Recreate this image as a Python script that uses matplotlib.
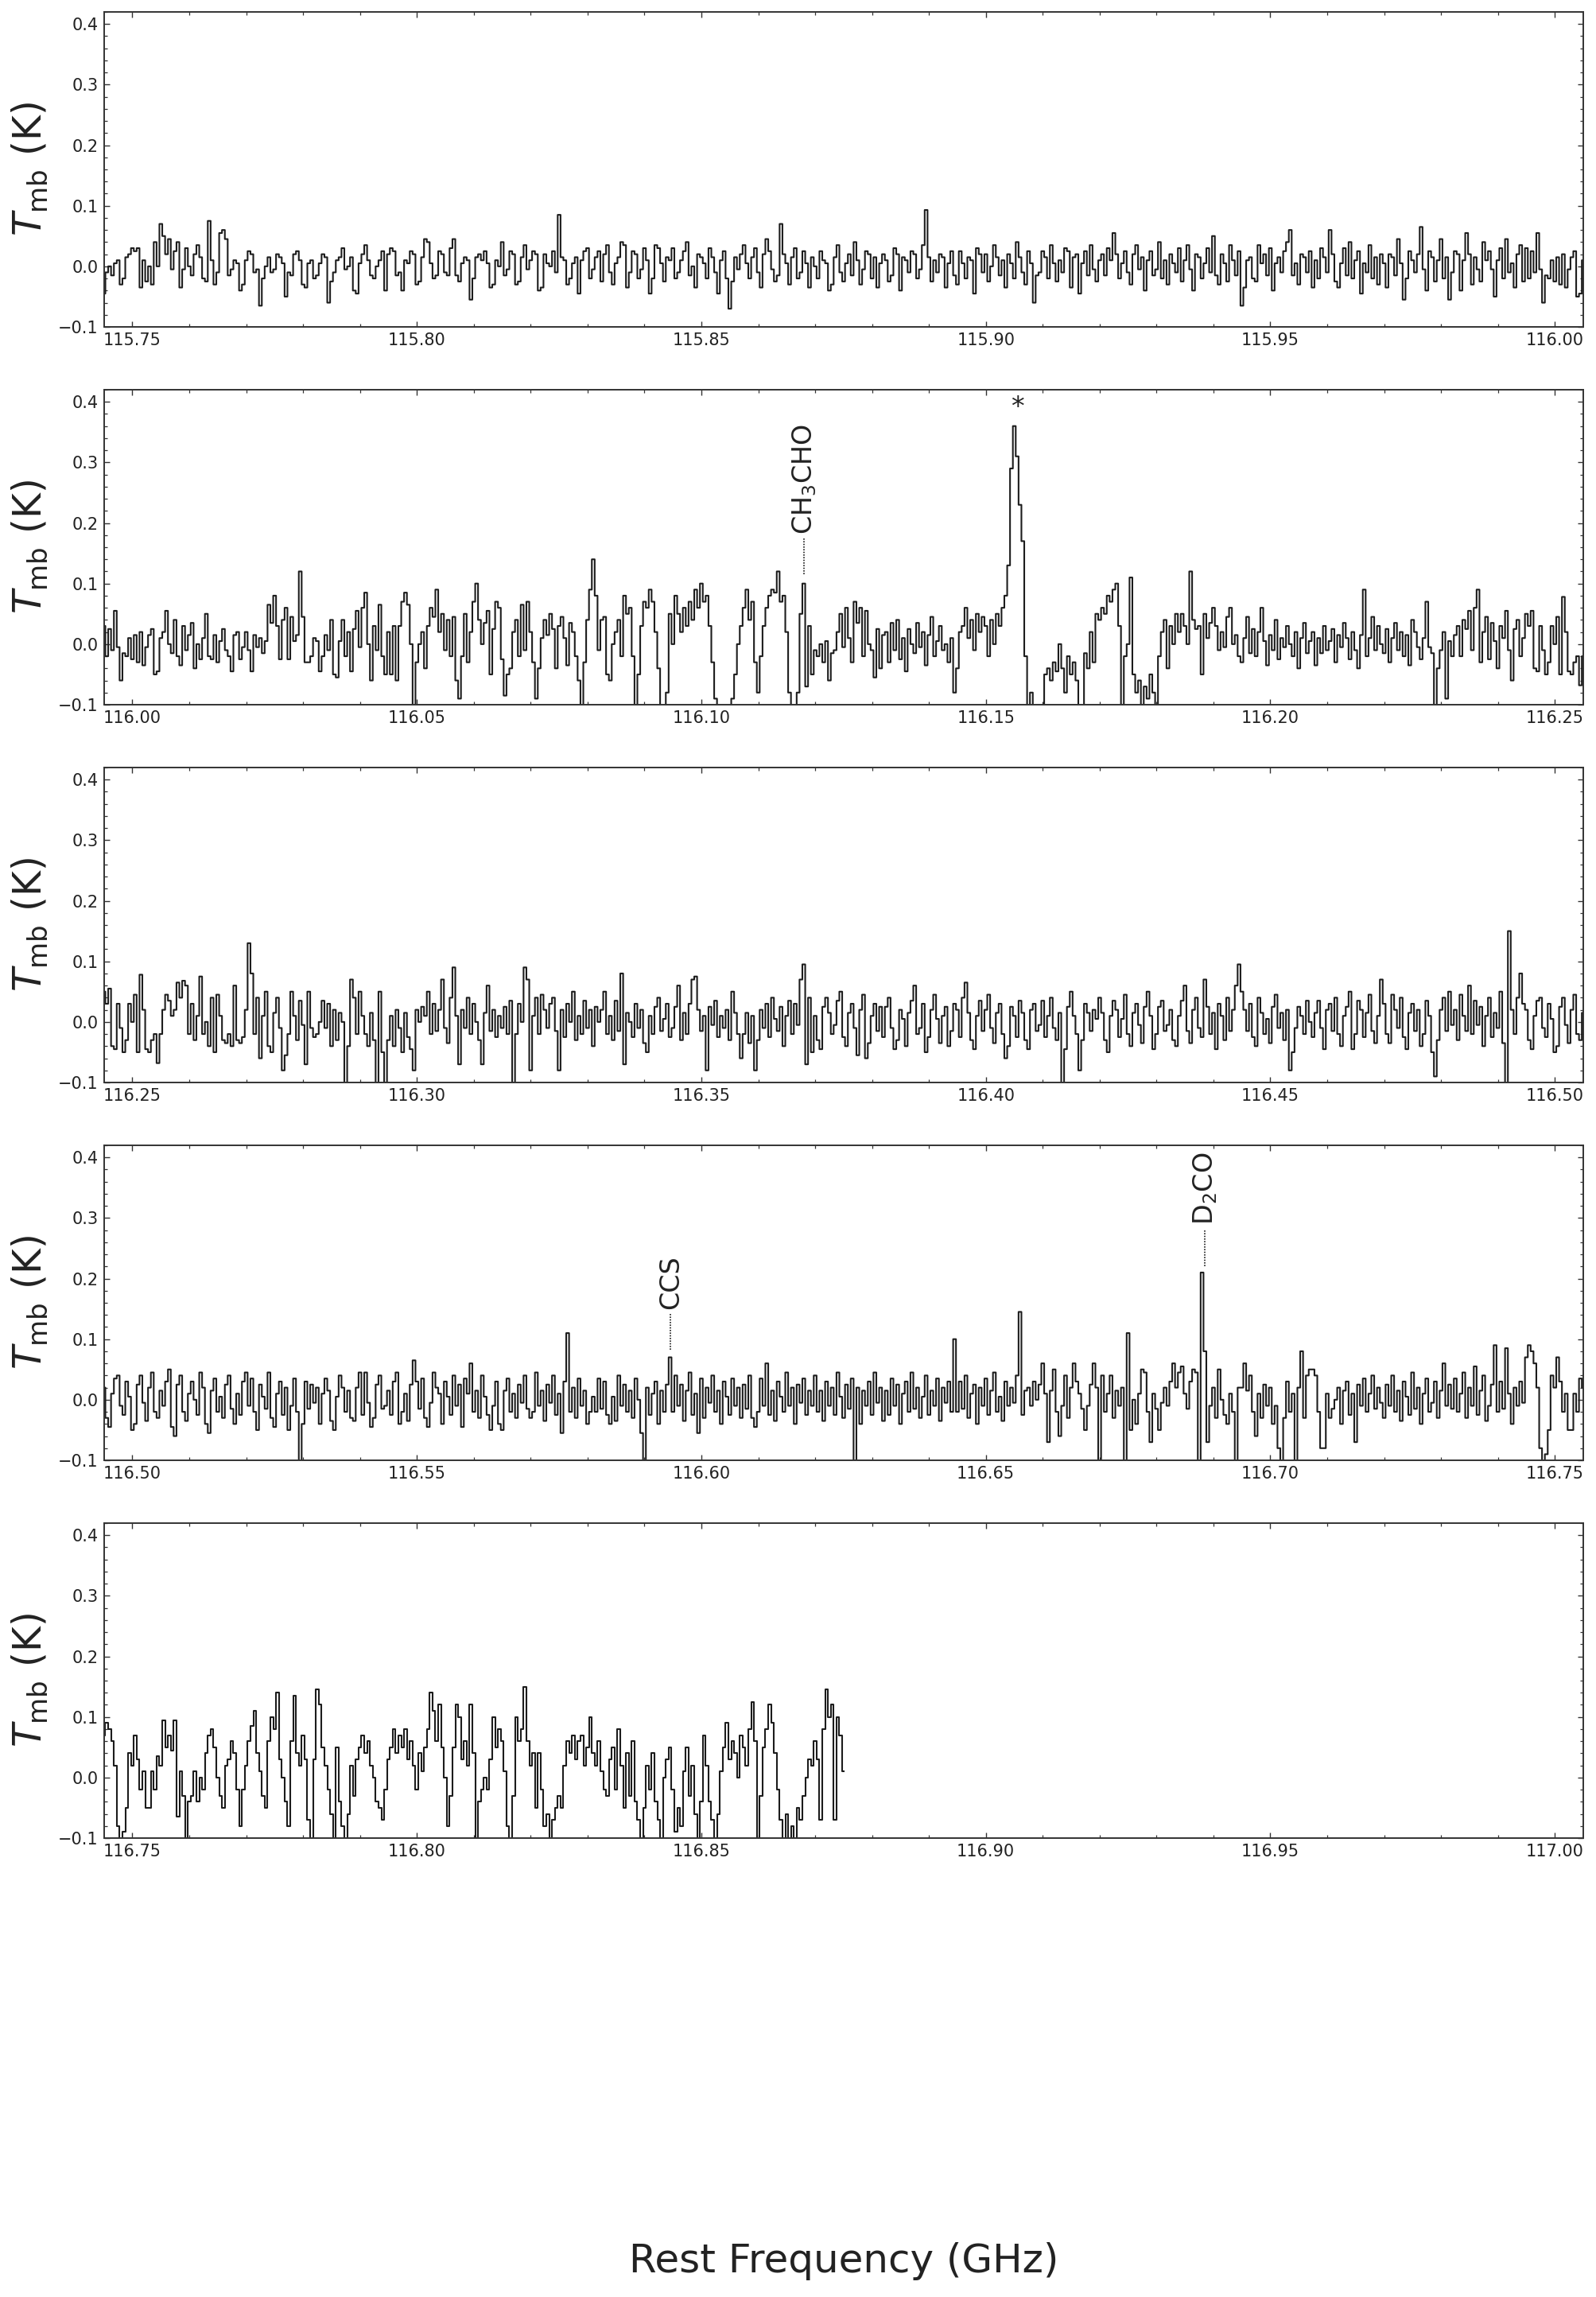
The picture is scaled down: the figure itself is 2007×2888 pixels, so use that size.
import numpy as np
import matplotlib
matplotlib.use("Agg")
import matplotlib.pyplot as plt
from matplotlib.ticker import MultipleLocator, FuncFormatter

# ---------------- data (main-beam temperature in mK, 0.5 MHz channels) ----------------
CHAN_GHZ = 0.0005
seg_starts = [115.745, 115.995, 116.245, 116.495, 116.745]

tmb_seg1 = [
-45,-10,0,-15,5,10,-30,-20,15,20,30,25,30,-35,10,-25,0,-30,40,0,70,50,20,45,-5,
25,40,-35,-5,30,0,-15,20,35,15,-20,-25,75,10,-30,-10,55,60,45,-15,-5,10,5,-40,-30,
10,25,20,-10,-5,-65,-20,0,15,-10,-5,20,15,5,-50,-10,-15,20,25,10,-30,-35,5,10,-20,
-15,5,20,15,-60,-25,-10,10,15,30,-5,0,15,-40,-45,5,20,35,10,-15,-20,0,10,25,-40,
20,30,25,-15,-10,-40,10,5,25,20,-30,-25,15,45,40,5,-20,-15,25,20,-10,-15,30,45,-15,
-25,5,15,10,-55,-20,15,20,10,25,5,-35,-30,10,0,40,-15,-5,25,20,-30,-25,15,35,-5,
10,25,20,-40,-35,20,5,0,25,-10,85,15,10,-30,-20,5,15,-45,10,25,30,-20,-5,15,25,
-25,20,35,-10,-30,5,15,40,35,-35,-10,25,20,-20,-5,30,10,-45,-20,35,30,5,-25,15,10,
30,-20,-10,10,25,40,-15,0,-35,20,15,5,-20,30,15,-10,-45,10,25,-20,-70,-25,15,-5,20,
35,5,-20,15,30,-10,-35,20,45,25,-5,-25,-15,70,20,5,-30,15,30,-20,-10,25,5,-35,15,
0,-20,25,10,5,-40,-30,15,35,-10,-25,5,20,-15,40,10,-30,-5,25,20,-20,15,-35,5,20,
10,-25,-15,30,20,-40,15,10,-10,25,20,-20,-5,35,93,15,-25,10,-10,20,15,-35,5,25,-15,
-30,25,5,-20,15,10,-45,30,20,-10,20,-25,0,35,15,-15,10,-35,20,5,-20,40,15,-10,-30,
25,5,-60,-15,-10,25,15,-20,35,5,-25,10,-10,30,25,-35,15,20,-45,5,25,-15,35,-5,-25,
10,20,-15,30,10,55,20,-20,5,25,-10,-30,20,35,-5,15,-40,10,25,-15,-5,40,-20,10,-30,
20,5,-10,30,-25,10,35,-5,-40,20,15,-20,5,30,-10,50,-15,-30,20,5,-25,35,10,-15,25,
-65,-35,10,15,-20,-25,35,5,20,-15,30,-40,5,15,-10,25,40,60,-15,5,-30,20,15,-10,25,
-35,10,-20,30,15,-10,60,20,-25,-35,5,30,-15,40,-20,10,25,-45,5,-10,35,-20,15,-30,20,
5,-35,20,15,-15,45,5,-55,-20,25,10,-10,20,65,-5,-40,25,15,-25,10,45,-20,15,-55,-10,
25,20,-40,10,55,20,-30,15,-5,-25,40,10,25,-5,-50,10,30,-20,45,-10,5,-35,20,35,-25]

tmb_seg2 = [
30,-20,25,-10,55,-5,-60,-15,-20,10,-25,15,-30,20,-35,-5,15,25,-50,-45,10,20,55,0,-15,
40,-20,-35,30,-10,15,35,-40,0,-25,10,50,-20,-25,15,-30,5,25,-10,-20,-45,15,20,-25,-5,
20,-10,-45,15,-5,10,-15,5,65,35,80,30,-25,40,60,-25,45,5,15,120,45,-30,-30,-20,10,
5,-45,-20,15,-10,40,-50,-55,5,40,-20,20,-45,25,55,-5,60,85,0,-60,30,-10,65,-20,-50,
20,-50,30,-60,30,70,85,65,0,-105,-30,0,20,-40,30,60,45,90,20,50,-10,40,-20,45,-60,
-90,-20,50,-30,20,70,100,40,0,35,55,-50,25,70,60,-25,-85,-50,-40,20,40,-20,65,-10,70,
20,-30,-90,-40,10,40,15,50,25,-40,30,45,10,-35,35,20,-20,-60,-110,-30,40,90,140,80,-10,
40,45,-50,-60,0,20,40,-20,80,50,60,-20,-130,-50,30,70,60,90,70,20,-40,-130,-120,-80,50,
0,80,50,20,60,30,70,40,90,60,100,70,80,30,-30,-90,-130,-140,-120,-130,-110,-90,-50,0,30,
60,90,40,70,-30,-80,-20,30,60,80,90,85,120,70,80,20,-80,-130,-120,-80,50,100,-70,30,-50,
-10,-20,0,-30,5,-60,-15,-10,20,50,-5,60,10,-30,70,35,60,-20,55,0,-10,-55,25,-40,15,
20,-30,35,-10,40,-25,10,-45,25,0,-15,35,-5,20,-35,15,45,-20,5,30,-10,0,-30,10,-80,
-40,20,30,60,10,40,-10,50,20,45,30,-20,40,0,50,30,60,80,130,290,360,310,230,170,-20,
-150,-80,-150,-140,-130,-120,-50,-40,-60,-30,-45,0,-40,-80,-20,-50,-30,-60,-110,-130,-15,-40,20,-30,50,
40,60,50,80,70,90,100,30,-100,-20,0,110,-50,-80,-60,-100,-70,-90,-50,-80,-100,-20,20,40,-40,
30,0,50,20,50,30,0,120,40,25,30,-50,50,10,35,60,30,-10,20,-5,45,60,0,15,-20,
-30,10,45,-15,25,-20,20,60,5,-35,15,-10,40,-25,10,-5,30,0,-20,20,-40,10,35,-15,5,
20,-35,10,-15,30,-10,5,25,-30,15,-5,35,10,-25,20,-10,-40,15,90,-20,10,45,-10,30,0,
-15,25,-30,10,35,-10,20,-20,15,-35,40,20,-5,-25,10,70,-5,-15,-130,-40,-10,20,-90,5,-20,
15,30,-20,40,25,55,-10,60,90,-30,20,45,-25,35,5,-40,30,10,55,-10,-60,25,40,-20,10]

tmb_seg3 = [
50,30,55,-40,-45,30,-10,-50,-30,30,0,45,-50,78,20,-45,-50,-30,-20,-68,-20,20,45,35,10,
20,65,40,68,60,-20,30,-30,10,75,-20,0,-40,40,-50,45,10,-30,-35,-20,-40,60,-30,-35,-25,
20,130,80,-20,40,-60,10,50,-40,-50,15,40,-10,-80,-55,-20,50,10,-30,35,-5,-70,50,-10,-25,
-20,0,35,-10,30,-40,20,-30,15,0,-120,-40,70,40,-20,50,10,-20,-40,15,-30,-120,50,-50,-100,
-30,10,-40,20,-10,-50,15,-25,-45,-80,20,0,25,10,50,-20,30,-15,20,70,-10,-35,40,90,10,
-70,20,-10,40,-20,30,0,-30,-70,15,60,-15,20,-25,10,-10,25,-20,35,-120,-20,30,0,90,70,
-80,10,40,-20,45,20,-10,30,40,-15,-80,20,-25,30,0,50,-30,10,-20,35,-10,20,-40,25,0,
20,50,-20,10,-30,35,-15,80,-70,15,0,-25,30,-10,20,-35,-50,10,-20,25,40,-15,5,30,-25,
-10,25,60,-30,15,-20,30,70,75,20,-15,10,-80,25,-5,35,-25,10,-10,20,-30,50,15,-20,-60,
-20,15,-35,10,-80,-30,20,-10,30,-25,40,5,-15,25,-40,10,35,-20,30,-5,70,95,-70,40,-50,
10,-30,-45,25,40,15,-20,-5,35,50,-25,-40,15,30,-10,-55,20,45,-60,-35,10,30,-15,25,-25,
25,40,-10,-45,-30,20,5,-40,15,35,60,-20,-10,30,-50,-25,20,45,5,-35,10,25,-40,-15,30,
20,-25,40,65,15,-30,-45,10,35,-15,20,45,-10,-35,15,30,-20,-60,-40,25,10,-25,35,15,-30,
-45,20,30,-15,-5,35,-25,10,40,-10,-30,15,-110,-45,25,50,10,-20,-80,-30,30,15,-15,20,5,
40,15,-30,-50,10,35,20,-25,5,45,-20,-40,15,30,-5,-35,25,50,10,-45,-20,25,35,-15,-5,
20,-30,-40,10,35,60,-15,-35,20,40,-10,-25,70,25,-20,15,-45,30,10,-30,40,-15,20,60,95,
50,20,-15,30,-25,-40,40,15,-20,5,-35,25,45,-10,15,-30,20,-80,-50,-10,25,10,-20,35,0,
-25,15,35,-10,-45,20,30,-15,40,-20,-40,10,25,50,-45,-20,35,20,-25,15,45,-15,-35,10,70,
30,-20,-35,45,20,-10,40,-25,-45,15,30,-15,20,-40,-20,35,10,-50,-90,-30,20,40,-15,50,-5,
20,-30,45,10,-15,60,-20,35,-5,25,-40,10,40,-25,15,-10,50,-35,-130,150,20,-20,40,80,30]

tmb_seg4 = [
20,-30,-45,10,35,40,-10,-25,30,5,-50,-40,25,40,-5,-35,20,45,-20,-30,15,-10,30,50,-45,
-60,25,40,-20,-35,10,30,0,-25,45,20,-40,-55,15,35,-20,5,-30,25,40,-15,-40,10,-25,30,
45,-10,35,-20,-50,25,5,-15,45,-30,-45,10,30,-25,20,-50,-10,35,-20,-110,-40,30,-15,25,-5,
20,-40,10,35,15,-35,-50,5,40,20,-20,15,-30,-35,20,45,-25,45,-5,-45,-30,25,40,-15,-10,
15,-25,30,45,-40,-20,10,-35,25,65,30,-15,35,-30,-45,-5,45,20,10,-40,30,5,-25,40,-10,
25,-45,35,10,60,-20,15,-30,40,5,-25,-50,-10,30,-40,-50,15,35,-20,10,-30,25,-5,40,-15,
-30,-20,45,-10,15,-35,25,-5,40,-25,10,-55,30,110,-20,20,-30,35,-10,15,-40,-20,5,-20,35,
-15,30,-25,-40,5,-35,40,-10,25,-20,15,-30,35,0,-55,-110,20,-25,10,30,-40,15,-20,25,70,
-20,40,-10,25,-35,15,45,-25,10,-55,35,-30,20,-5,40,-20,15,-40,30,5,-25,35,-10,20,-30,
25,-15,40,-30,-45,-20,35,-10,60,-25,15,-35,30,5,-20,45,-10,20,-40,25,-5,35,-25,15,-10,
40,-20,15,-35,30,-10,20,-25,45,5,-30,25,-15,35,-120,20,-40,15,-10,30,-25,45,-5,20,-35,
15,-25,35,-10,25,-40,10,30,-20,45,-15,20,-30,5,40,-25,15,-10,35,-35,20,-5,30,-20,100,
-20,30,-15,40,-30,10,25,-40,20,-10,35,-25,15,45,-20,5,-35,30,-10,20,-5,40,145,-25,15,
20,-10,30,0,25,60,10,-70,15,50,-20,-60,-10,40,-30,20,60,30,10,-15,-50,-10,25,60,20,
-120,40,-20,10,40,-30,15,-10,20,-120,110,-50,0,-40,10,50,45,-20,-70,10,-15,-50,-5,20,-10,
30,60,20,45,55,10,-15,30,50,45,-120,210,80,-70,-10,20,-30,50,0,-25,-40,10,-20,-120,20,
20,60,15,40,-20,-60,10,-30,25,-10,20,-40,-10,-80,-120,-30,30,-20,10,-120,20,80,-30,40,50,
50,40,-20,-80,-80,10,-30,-15,0,20,-40,15,30,-25,10,-70,25,-10,35,-20,10,40,-15,20,-5,
-30,25,-10,40,-20,15,-35,30,5,-25,45,-15,20,-40,10,35,-20,-5,30,-30,15,60,-10,25,-15,
35,-20,10,45,-30,20,-10,55,-25,15,40,-35,-10,25,90,-20,30,-15,85,10,-40,20,-10,30,-5]

tmb_seg5 = [
70,90,80,60,20,-80,-110,-90,-50,40,20,70,30,-20,10,-50,-50,10,-20,35,20,95,50,70,45,
95,-65,10,-30,-110,-40,-30,10,-40,0,-20,40,70,80,50,0,-30,-50,20,30,60,40,-20,-80,-20,
20,60,85,110,40,10,-30,-50,60,100,80,140,30,0,-40,-80,60,135,40,20,70,30,-70,-110,30,
145,120,50,20,-20,-60,-110,50,-40,-80,-110,-60,20,-30,30,50,70,40,60,20,0,-40,-50,-70,-20,
30,50,80,40,70,50,80,30,60,20,-20,40,10,50,80,140,110,60,120,50,0,-80,-30,50,120,
100,30,60,20,120,40,-110,-40,-20,0,-20,30,100,50,80,60,10,-80,-110,-30,100,60,80,150,60,
20,40,-50,40,-20,-80,-60,-110,-70,-50,-30,-50,20,60,40,70,30,60,70,20,50,100,40,20,60,
10,-20,-30,30,50,-20,80,20,-50,40,-30,60,-40,-70,-110,-50,20,-20,40,-40,-70,-110,0,30,50,
-20,-90,-50,-80,10,50,-30,20,-60,-110,-40,70,20,-40,-70,-110,-60,10,50,90,30,60,40,0,70,
50,20,80,125,60,-110,-30,50,80,120,90,40,-20,-70,-110,-60,-110,-80,-110,-50,-70,-30,0,30,20,
60,30,-70,80,145,100,120,-70,100,70,10]

segments = [tmb_seg1, tmb_seg2, tmb_seg3, tmb_seg4, tmb_seg5]

# panels (x ranges in GHz)
panel_lo = [115.745, 115.995, 116.245, 116.495, 116.745]
panel_hi = [116.005, 116.255, 116.505, 116.755, 117.005]
y_lo, y_hi = -0.1, 0.42

# line identifications: label, frequency (GHz), marker-line bottom/top (K), label base (K), panel
line_labels = ["CH$_3$CHO", "CCS", "D$_2$CO"]
line_freqs = [116.1181, 116.5946, 116.6885]
line_y0 = [0.115, 0.083, 0.221]
line_y1 = [0.175, 0.143, 0.280]
line_text_y = [0.181, 0.150, 0.289]
line_panel = [1, 3, 3]
star_freq, star_y, star_panel = 116.1556, 0.390, 1

# ---------------- build spectrum ----------------
freq_parts, tmb_parts = [], []
for start, seg in zip(seg_starts, segments):
    freq_parts.append(start + CHAN_GHZ * np.arange(len(seg)))
    tmb_parts.append(np.asarray(seg, dtype=float) / 1000.0)
freq = np.concatenate(freq_parts)
tmb = np.concatenate(tmb_parts)

# ---------------- figure ----------------
W, H = 2007, 2888
fig = plt.figure(figsize=(W / 100, H / 100), dpi=100)
INK = "#1c1c1c"

left_px, right_px = 130.7, 1991.0
panel_h_px = 396.0
first_bottom_px, pitch_px = 411.0, 475.0

xfmt = FuncFormatter(lambda v, p: f"{v:.2f}")
yfmt = FuncFormatter(lambda v, p: f"{v:.1f}".replace("-", "\u2212").replace("\u22120.0", "0.0"))

axes = []
for i in range(5):
    bottom_px = first_bottom_px + pitch_px * i
    ax = fig.add_axes([left_px / W, 1 - bottom_px / H,
                       (right_px - left_px) / W, panel_h_px / H])
    axes.append(ax)
    ax.plot(freq, tmb, drawstyle="steps-mid", color=INK, lw=1.5)
    ax.set_xlim(panel_lo[i], panel_hi[i])
    ax.set_ylim(y_lo, y_hi)
    ax.xaxis.set_major_locator(MultipleLocator(0.05))
    ax.xaxis.set_minor_locator(MultipleLocator(0.01))
    ax.yaxis.set_major_locator(MultipleLocator(0.1))
    ax.yaxis.set_minor_locator(MultipleLocator(0.02))
    ax.xaxis.set_major_formatter(xfmt)
    ax.yaxis.set_major_formatter(yfmt)
    ax.tick_params(which="both", direction="in", top=True, right=True,
                   colors="#333333", labelcolor="#222222")
    ax.tick_params(which="major", length=5, width=1.0, labelsize=15, pad=5)
    ax.tick_params(which="minor", length=3, width=0.9)
    for s in ax.spines.values():
        s.set_linewidth(1.4)
        s.set_color("#333333")
    yc = 1 - (bottom_px - panel_h_px / 2) / H
    fig.text(37.5 / W, yc, r"$T_{\rm mb}$ (K)", rotation=90, ha="center",
             va="center", fontsize=35, color="#222222")

for lab, f, y0, y1, yt, p in zip(line_labels, line_freqs, line_y0, line_y1,
                                  line_text_y, line_panel):
    ax = axes[p]
    ax.plot([f, f], [y0, y1], ls=(0, (1, 1)), color=INK, lw=1.2)
    ax.text(f, yt, lab, rotation=90, ha="center", va="bottom",
            fontsize=24, color="#222222")

axes[star_panel].text(star_freq, star_y, "*", ha="center", va="center",
                      fontsize=24, color="#222222")

fig.text((left_px + right_px) / 2 / W, 1 - 2843 / H, "Rest Frequency (GHz)",
         ha="center", va="center", fontsize=36, color="#222222")

fig.savefig("out.png", dpi=100)
